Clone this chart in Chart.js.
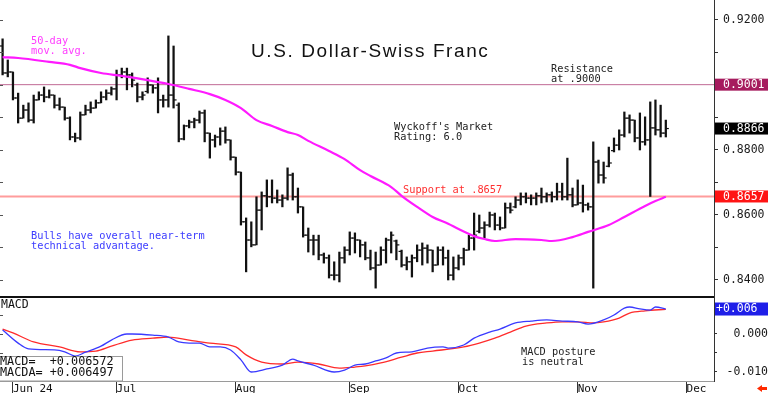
<!DOCTYPE html>
<html><head><meta charset="utf-8">
<script src="https://cdn.jsdelivr.net/npm/chart.js@4.4.1/dist/chart.umd.min.js"></script>
<style>
html,body{margin:0;padding:0;background:#fff;overflow:hidden}
#w{position:relative;width:768px;height:393px;background:#fff}
canvas{position:absolute;left:0}
#c1{top:0;width:768px;height:298px}
#c2{top:298px;width:768px;height:95px}
</style></head>
<body><div id="w"><canvas id="c1" width="768" height="298"></canvas><canvas id="c2" width="768" height="95"></canvas></div>
<script>
// ---- data (trading-day index 0 = May 30, 2024) ----
const highs = [.9142,.9077,.9040,.8975,.8938,.8945,.8969,.8979,.8994,.8985,.8969,.8960,.8932,.8902,.8852,.8917,.8938,.8948,.8954,.8979,.8985,.8994,.9046,.9052,.9052,.9037,.9006,.8979,.9022,.9000,.9022,.8969,.9151,.9120,.8945,.8877,.8892,.8898,.8920,.8923,.8852,.8846,.8868,.8871,.8831,.8778,.8732,.8591,.8579,.8656,.8671,.8708,.8708,.8677,.8662,.8745,.8729,.8683,.8625,.8560,.8538,.8538,.8483,.8477,.8456,.8486,.8502,.8548,.8545,.8523,.8517,.8492,.8486,.8502,.8529,.8548,.8523,.8492,.8471,.8477,.8508,.8514,.8508,.8492,.8502,.8502,.8492,.8471,.8477,.8498,.8538,.8606,.8600,.8579,.8609,.8606,.8594,.8637,.8637,.8656,.8668,.8668,.8662,.8668,.8683,.8668,.8671,.8698,.8698,.8775,.8683,.8708,.8692,.8637,.8825,.8769,.8763,.8809,.8837,.8862,.8917,.8908,.8892,.8914,.8902,.8948,.8954,.8938,.8892];
const lows = [.9031,.9025,.8954,.8883,.8898,.8886,.8883,.8954,.8948,.8960,.8929,.8923,.8892,.8831,.8825,.8831,.8908,.8914,.8929,.8945,.8954,.8969,.8954,.9022,.8985,.8994,.8948,.8954,.8975,.8975,.8914,.8932,.8932,.8929,.8825,.8831,.8868,.8868,.8883,.8825,.8775,.8809,.8815,.8821,.8769,.8723,.8569,.8425,.8502,.8508,.8554,.8625,.8637,.8637,.8625,.8646,.8646,.8606,.8532,.8486,.8477,.8462,.8452,.8406,.8400,.8394,.8452,.8477,.8483,.8471,.8462,.8431,.8375,.8446,.8452,.8483,.8462,.8440,.8431,.8409,.8456,.8446,.8452,.8425,.8446,.8446,.8400,.8400,.8431,.8446,.8492,.8492,.8545,.8529,.8563,.8554,.8554,.8560,.8606,.8622,.8631,.8637,.8631,.8631,.8637,.8640,.8640,.8646,.8646,.8646,.8625,.8631,.8609,.8615,.8375,.8698,.8698,.8748,.8794,.8800,.8840,.8852,.8825,.8800,.8815,.8657,.8846,.8840,.8840];
const opens = [.9120,.9037,.9040,.8960,.8898,.8923,.8892,.8954,.8969,.8963,.8969,.8938,.8932,.8898,.8840,.8837,.8908,.8923,.8929,.8945,.8963,.8975,.8988,.9031,.9040,.9031,.9000,.8963,.8980,.9000,.8991,.8954,.8954,.8969,.8938,.8834,.8874,.8886,.8892,.8914,.8852,.8831,.8840,.8858,.8831,.8778,.8732,.8579,.8523,.8508,.8615,.8659,.8656,.8652,.8646,.8652,.8723,.8656,.8625,.8538,.8523,.8523,.8477,.8468,.8415,.8415,.8468,.8492,.8529,.8523,.8508,.8468,.8437,.8446,.8492,.8523,.8520,.8488,.8446,.8456,.8468,.8492,.8498,.8492,.8446,.8492,.8468,.8415,.8437,.8468,.8492,.8529,.8550,.8560,.8569,.8600,.8569,.8560,.8622,.8625,.8646,.8656,.8652,.8652,.8659,.8656,.8662,.8656,.8671,.8656,.8662,.8631,.8637,.8631,.8625,.8763,.8723,.8750,.8798,.8815,.8846,.8898,.8892,.8837,.8825,.8831,.8868,.8862,.8852];
const closes = [.9037,.9040,.8960,.8898,.8923,.8892,.8954,.8969,.8963,.8969,.8938,.8932,.8898,.8840,.8837,.8908,.8923,.8929,.8945,.8963,.8975,.8988,.9031,.9040,.9031,.9015,.8963,.8969,.9000,.8991,.8954,.8954,.8969,.8954,.8834,.8874,.8886,.8892,.8914,.8852,.8831,.8840,.8858,.8831,.8778,.8732,.8579,.8523,.8508,.8615,.8659,.8656,.8652,.8646,.8652,.8723,.8656,.8625,.8538,.8523,.8523,.8477,.8468,.8415,.8415,.8468,.8492,.8529,.8523,.8508,.8468,.8437,.8446,.8492,.8523,.8538,.8508,.8446,.8456,.8468,.8492,.8498,.8492,.8446,.8492,.8468,.8415,.8437,.8468,.8492,.8529,.8538,.8560,.8569,.8600,.8569,.8560,.8622,.8615,.8646,.8656,.8652,.8652,.8659,.8656,.8662,.8656,.8671,.8656,.8662,.8631,.8637,.8631,.8625,.8763,.8723,.8714,.8760,.8815,.8846,.8898,.8892,.8837,.8825,.8831,.8868,.8862,.8852,.8866];

const maDays = [0,3,9,13,15,19,23,28,32,36,40,43,46,49,52,55,57,59,63,66,69,71,75,77,80,83,86,88,91,93,95,99,104,106,110,113,117,120,124,126,128];
const maVals = [.9086,.9083,.9071,.9062,.9052,.9037,.9028,.9015,.9003,.8988,.8972,.8954,.8929,.8892,.8874,.8855,.8846,.8828,.8797,.8772,.8738,.8720,.8686,.8659,.8625,.8594,.8573,.8557,.8535,.8526,.8520,.8526,.8523,.8520,.8532,.8548,.8569,.8594,.8628,.8643,.8656];

const supportLevel = [0.8657];
const resistanceLevel = [0.9001];

const macdDays = [0,3,5,10,12,14,16,19,21,24,25,29,32,34,36,38,40,42,44,46,48,51,54,56,57,60,64,66,68,70,72,74,76,79,82,85,86,89,91,94,96,99,102,105,108,111,113,116,118,120,121,123,125,126,128];
const macdVals = [0.00105,-0.0024,-0.0039,-0.0042,-0.0047,-0.0058,-0.0048,-0.0032,-0.0016,0.0000,0.0000,-0.0003,-0.0008,-0.0021,-0.0024,-0.0024,-0.0034,-0.0034,-0.0042,-0.0068,-0.0100,-0.0092,-0.0082,-0.0066,-0.0071,-0.0082,-0.0100,-0.0095,-0.0082,-0.0079,-0.0071,-0.0063,-0.0050,-0.0047,-0.0037,-0.0034,-0.0037,-0.0029,-0.0011,0.0005,0.0013,0.0029,0.0034,0.0037,0.0034,0.0032,0.0026,0.0037,0.0050,0.0068,0.0071,0.0066,0.0063,0.0071,0.006572];
const sigDays = [0,2,6,11,15,18,21,25,29,32,36,40,45,47,50,54,57,61,65,68,70,73,77,80,83,89,92,95,98,101,105,108,111,114,116,119,121,124,128];
const sigVals = [0.0013,0.0003,-0.0021,-0.0034,-0.0047,-0.0045,-0.0032,-0.0016,-0.0011,-0.0008,-0.0016,-0.0024,-0.0034,-0.0055,-0.0074,-0.0079,-0.0074,-0.0079,-0.0090,-0.0087,-0.0084,-0.0076,-0.0061,-0.0050,-0.0045,-0.0034,-0.0024,-0.0011,0.0005,0.0021,0.0029,0.0032,0.0032,0.0029,0.0032,0.0042,0.0055,0.0061,0.006497];

const monthDays = [2,22,45,67,88,111,132];
const monthLabels = ['Jun 24','Jul','Aug','Sep','Oct','Nov','Dec'];

// ---- layout / style constants ----
const X_MIN = -0.5, X_MAX = 137.3;
const P_MIN = 0.83446, P_MAX = 0.92615;
const M_MIN = -0.01237, M_MAX = 0.00947;
const MONO = '"DejaVu Sans Mono", monospace';
const TICK = 0.33;
const noPad = s => { s.paddingTop = 0; s.paddingBottom = 0; s.paddingLeft = 0; s.paddingRight = 0; };
const dayIdx = closes.map((_, k) => k);

function txt(ctx, s, x, y, font, color, ls) {
  ctx.font = font; ctx.fillStyle = color; ctx.letterSpacing = ls || '0px';
  ctx.fillText(s, x, y);
}
function leftTicks(ctx, scale) {
  ctx.strokeStyle = '#555'; ctx.lineWidth = 1;
  scale.ticks.forEach(t => {
    const py = Math.round(scale.getPixelForValue(t.value)) + 0.5;
    ctx.beginPath(); ctx.moveTo(0, py); ctx.lineTo(3, py); ctx.stroke();
  });
}

const topDecor = {
  id: 'topDecor',
  afterDraw(chart) {
    const {ctx, chartArea: a, scales: {y}} = chart;
    ctx.save();
    leftTicks(ctx, y);
    ctx.fillStyle = '#111';
    ctx.fillRect(0, a.bottom - 2, a.right, 2);
    ctx.textBaseline = 'middle'; ctx.textAlign = 'left';
    const boxes = [[resistanceLevel[0], '#a61b5e'], [closes[closes.length - 1], '#000000'], [supportLevel[0], '#ff1414']];
    boxes.forEach(([v, c]) => {
      const py = y.getPixelForValue(v);
      ctx.fillStyle = c; ctx.fillRect(a.right + 1, py - 6, 768 - a.right - 1, 12);
      txt(ctx, v.toFixed(4), 723, py + 0.5, `11.5px ${MONO}`, '#ffffff');
    });
    const sm = `10.3px ${MONO}`;
    txt(ctx, '50-day', 31, 41, sm, '#ff3cff');
    txt(ctx, 'mov. avg.', 31, 51, sm, '#ff3cff');
    txt(ctx, 'Resistance', 551, 69, sm, '#222');
    txt(ctx, 'at .9000', 551, 79.5, sm, '#222');
    txt(ctx, "Wyckoff's Market", 394, 127, sm, '#222');
    txt(ctx, 'Rating: 6.0', 394, 137, sm, '#222');
    txt(ctx, 'Support at .8657', 403, 190.5, sm, '#ff3030');
    txt(ctx, 'Bulls have overall near-term', 31, 236.5, sm, '#3c3cff');
    txt(ctx, 'technical advantage.', 31, 246.5, sm, '#3c3cff');
    ctx.textBaseline = 'alphabetic';
    txt(ctx, 'U.S. Dollar-Swiss Franc', 251, 57, '19px "Liberation Sans", Arial, sans-serif', '#111', '1.6px');
    ctx.restore();
  }
};

const botDecor = {
  id: 'botDecor',
  afterDraw(chart) {
    const {ctx, chartArea: a, scales: {y}} = chart;
    ctx.save();
    leftTicks(ctx, y);
    ctx.textBaseline = 'middle'; ctx.textAlign = 'left';
    txt(ctx, 'MACD', 1, 7, `11.5px ${MONO}`, '#111');
    const sm = `10.3px ${MONO}`;
    txt(ctx, 'MACD posture', 521, 54, sm, '#222');
    txt(ctx, 'is neutral', 522, 64, sm, '#222');
    // value box
    ctx.fillStyle = '#fff'; ctx.fillRect(0, 58, 123, a.bottom - 58);
    ctx.strokeStyle = '#9a9a9a'; ctx.lineWidth = 1; ctx.strokeRect(-1, 58.5, 123.5, a.bottom - 58.5);
    const mLast = macdVals[macdVals.length - 1], sLast = sigVals[sigVals.length - 1];
    const f = `11.8px ${MONO}`;
    txt(ctx, 'MACD=  +' + mLast.toFixed(6), 0, 64, f, '#111');
    txt(ctx, 'MACDA= +' + sLast.toFixed(6), 0, 74.5, f, '#111');
    // last macd box
    const py = y.getPixelForValue(mLast);
    ctx.fillStyle = '#1e1ee8'; ctx.fillRect(a.right + 1, py - 6.5, 768 - a.right - 1, 13);
    txt(ctx, '+' + (Math.floor(mLast * 1000) / 1000).toFixed(3), 716, py + 0.5, `11.5px ${MONO}`, '#fff');
    // red arrow
    ctx.fillStyle = '#ff2a00';
    ctx.beginPath(); ctx.moveTo(757, 90.5); ctx.lineTo(762, 87); ctx.lineTo(762, 94); ctx.closePath(); ctx.fill();
    ctx.fillRect(762, 89, 5, 3);
    ctx.restore();
  }
};

Chart.defaults.font.family = MONO;

new Chart(document.getElementById('c1'), {
  type: 'scatter',
  data: {
    datasets: [
      {type: 'line', data: maDays.map((d, k) => ({x: d, y: maVals[k]})), borderColor: '#ff1aff', borderWidth: 2.2, pointRadius: 0, pointHoverRadius: 0, cubicInterpolationMode: 'monotone'},
      {type: 'bar', data: dayIdx.map(k => ({x: k, y: [lows[k], highs[k]]})), backgroundColor: '#111', borderWidth: 0, barThickness: 1.6},
      {type: 'scatter', data: dayIdx.map(k => ({x: k + TICK, y: closes[k]})), pointStyle: 'line', pointRadius: 1.3, pointHoverRadius: 0, borderColor: '#111', borderWidth: 1.2},
      {type: 'scatter', data: dayIdx.map(k => ({x: k - TICK, y: opens[k]})), pointStyle: 'line', pointRadius: 1.3, pointHoverRadius: 0, borderColor: '#111', borderWidth: 1.2},
      {type: 'line', data: [{x: X_MIN, y: supportLevel[0]}, {x: X_MAX, y: supportLevel[0]}], borderColor: '#ff9c9c', borderWidth: 2, pointRadius: 0, pointHoverRadius: 0},
      {type: 'line', data: [{x: X_MIN, y: resistanceLevel[0]}, {x: X_MAX, y: resistanceLevel[0]}], borderColor: '#c06a95', borderWidth: 1, pointRadius: 0, pointHoverRadius: 0}
    ]
  },
  options: {
    responsive: false, animation: false, devicePixelRatio: 1, events: [],
    layout: {padding: 0, autoPadding: false},
    plugins: {legend: {display: false}, tooltip: {enabled: false}},
    scales: {
      x: {type: 'linear', min: X_MIN, max: X_MAX, offset: false, display: false},
      y: {
        type: 'linear', position: 'right', min: P_MIN, max: P_MAX,
        afterFit: s => { s.width = 54; noPad(s); },
        border: {color: '#333', width: 1},
        grid: {drawOnChartArea: false, tickLength: 4, color: '#333'},
        ticks: {stepSize: 0.01, includeBounds: false, padding: 5, color: '#1a1a1a', font: {family: MONO, size: 11.5},
          callback: v => (Math.round(v * 100) % 2 === 0) ? v.toFixed(4) : ''}
      }
    }
  },
  plugins: [topDecor]
});

new Chart(document.getElementById('c2'), {
  type: 'scatter',
  data: {
    datasets: [
      {type: 'line', data: macdDays.map((d, k) => ({x: d, y: macdVals[k]})), borderColor: '#3a3aff', borderWidth: 1.3, pointRadius: 0, pointHoverRadius: 0, cubicInterpolationMode: 'monotone'},
      {type: 'line', data: sigDays.map((d, k) => ({x: d, y: sigVals[k]})), borderColor: '#ff2b2b', borderWidth: 1.3, pointRadius: 0, pointHoverRadius: 0, cubicInterpolationMode: 'monotone'}
    ]
  },
  options: {
    responsive: false, animation: false, devicePixelRatio: 1, events: [],
    layout: {padding: 0, autoPadding: false},
    plugins: {legend: {display: false}, tooltip: {enabled: false}},
    scales: {
      x: {
        type: 'linear', position: 'bottom', min: X_MIN, max: X_MAX, offset: false,
        afterBuildTicks: s => { s.ticks = monthDays.map(v => ({value: v})); },
        afterFit: s => { s.height = 12; noPad(s); },
        border: {color: '#9a9a9a', width: 1},
        grid: {drawOnChartArea: false, drawTicks: true, tickLength: 12, color: '#333', lineWidth: 1},
        ticks: {autoSkip: false, maxRotation: 0, minRotation: 0, align: 'start', padding: -10, color: '#111',
          font: {family: MONO, size: 11}, callback: (v, i) => monthLabels[i]}
      },
      y: {
        type: 'linear', position: 'right', min: M_MIN, max: M_MAX,
        afterFit: s => { s.width = 54; noPad(s); },
        border: {color: '#333', width: 1},
        grid: {drawOnChartArea: false, tickLength: 3, color: '#333'},
        ticks: {stepSize: 0.005, includeBounds: false, padding: 0, crossAlign: 'far', color: '#1a1a1a',
          font: {family: MONO, size: 11.5},
          callback: v => { const m = Math.round(v * 1000); return m % 10 === 0 ? (m === 0 ? '0.000' : v.toFixed(3)) : ''; }}
      }
    }
  },
  plugins: [botDecor]
});
</script></body></html>
